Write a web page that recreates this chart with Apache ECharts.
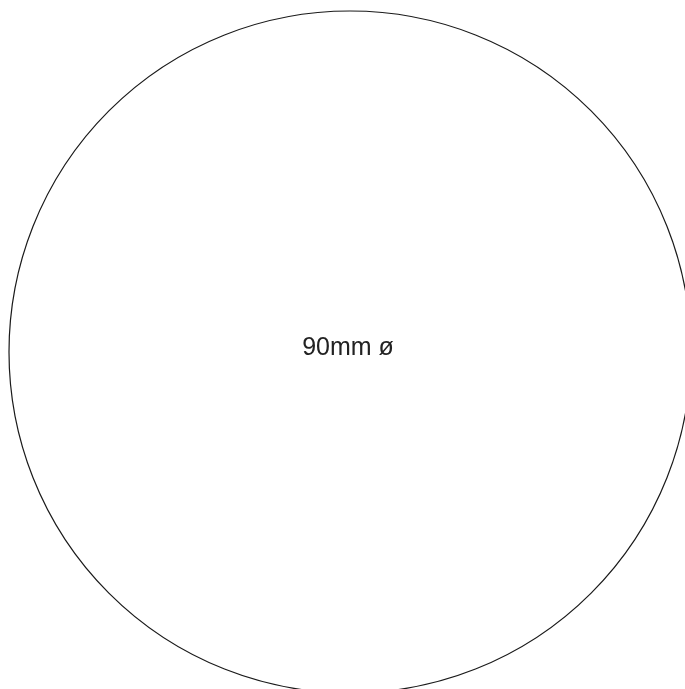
<!DOCTYPE html>
<html>
<head>
<meta charset="utf-8">
<script src="https://cdn.jsdelivr.net/npm/echarts@6/dist/echarts.min.js"></script>
<style>
  html, body { margin: 0; padding: 0; background: #fff; }
  #chart { width: 685px; height: 689px; }
</style>
</head>
<body>
<div id="chart"></div>
<script>
  // one disc, labelled with its diameter
  const names = ['90mm ø'];
  const values = [90];

  const chart = echarts.init(document.getElementById('chart'));
  chart.setOption({
    backgroundColor: '#fff',
    animation: false,
    series: [{
      type: 'pie',
      center: [350, 352],
      radius: [0, 341],
      silent: true,
      data: names.map((n, i) => ({ name: n, value: values[i] })),
      itemStyle: {
        color: '#fff',
        borderColor: '#1a1a1a',
        borderWidth: 1.2
      },
      label: {
        show: true,
        position: 'center',
        formatter: '{b}',
        fontFamily: '"Liberation Sans", Arial, sans-serif',
        fontSize: 25,
        color: '#222',
        offset: [-2, -4]
      },
      labelLine: { show: false },
      emphasis: { disabled: true }
    }]
  });
</script>
</body>
</html>
